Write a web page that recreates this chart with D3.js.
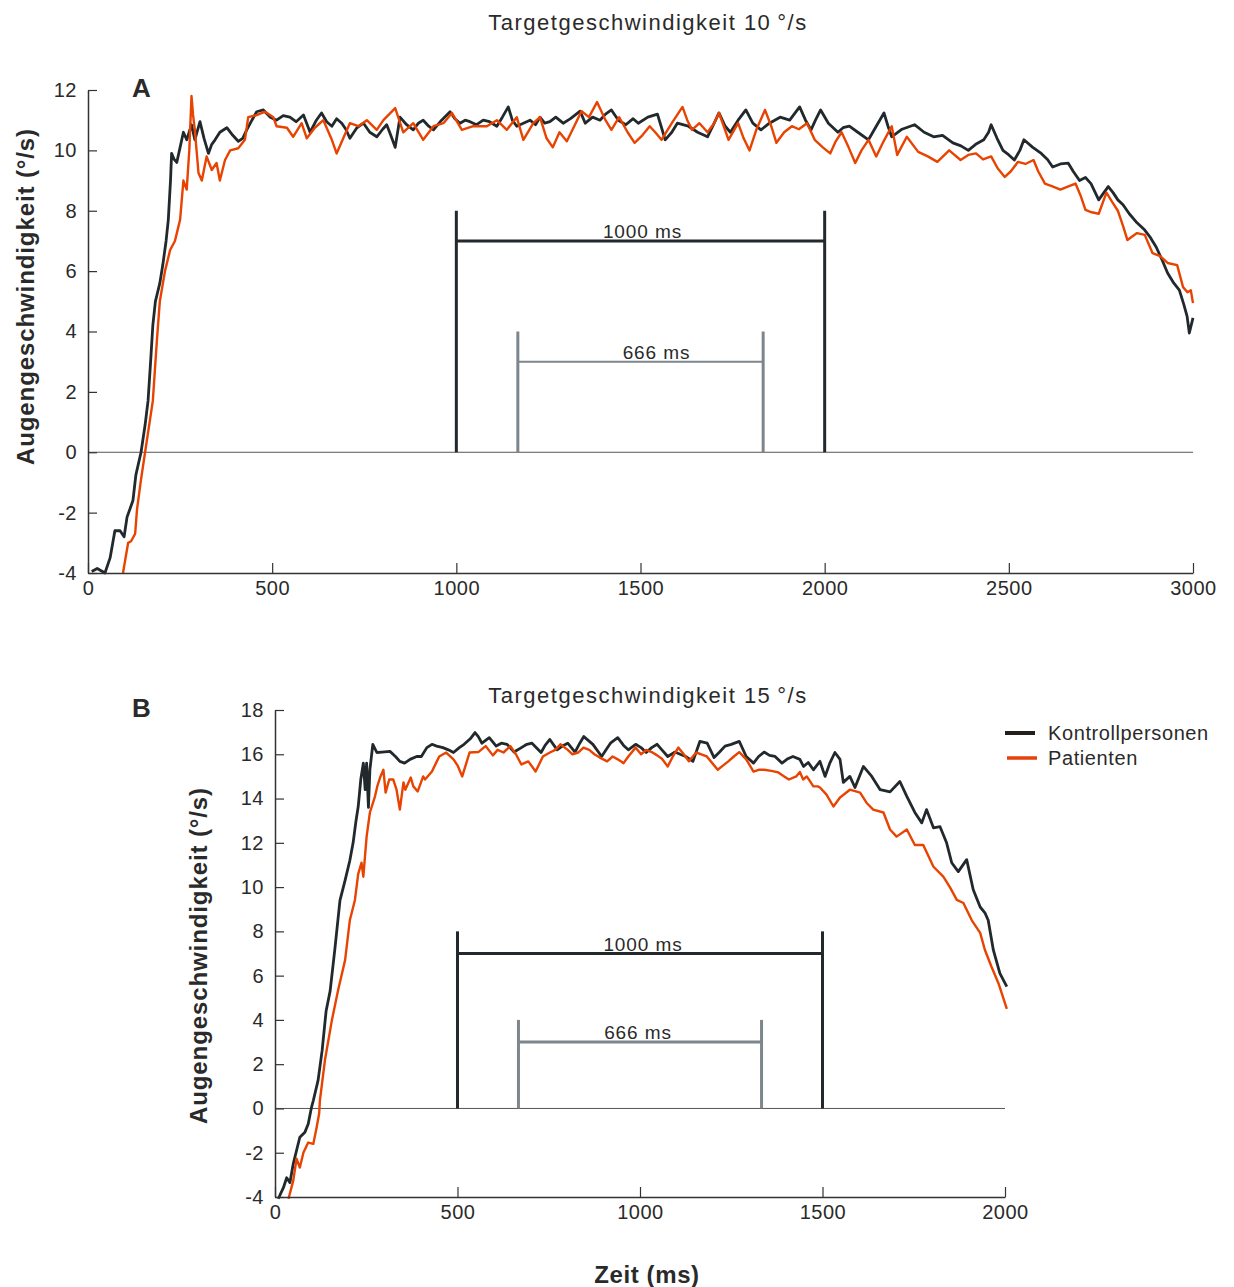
<!DOCTYPE html>
<html>
<head>
<meta charset="utf-8">
<script src="https://cdn.jsdelivr.net/npm/d3@7"></script>
<style>
  body { margin: 0; background: #fff; }
  text { font-family: "Liberation Sans", Arial, sans-serif; fill: #2a2a2a; }
</style>
</head>
<body>
<script>
// values: [time ms, eye velocity deg/s]
var ctrlA = [[10,-3.95],[25,-3.85],[46,-4.0],[60,-3.5],[73,-2.6],[87,-2.6],[98,-2.8],[106,-2.15],[122,-1.6],[130,-0.75],[144,0],[155,0.9],[163,1.7],[170,3.0],[176,4.2],[183,5.0],[195,5.6],[203,6.2],[212,7.0],[218,7.7],[224,9.0],[227,9.9],[234,9.7],[241,9.6],[250,10.1],[259,10.6],[268,10.35],[281,10.85],[290,10.35],[304,10.95],[315,10.4],[327,9.9],[336,10.2],[345,10.35],[358,10.6],[377,10.75],[393,10.5],[408,10.3],[420,10.4],[431,10.68],[445,11.0],[458,11.28],[476,11.34],[495,11.1],[512,11.0],[530,11.15],[548,11.1],[565,10.95],[585,11.17],[603,10.6],[620,11.0],[634,11.24],[648,10.95],[662,10.8],[675,11.05],[689,10.9],[700,10.7],[711,10.4],[730,10.75],[748,10.9],[765,10.6],[784,10.45],[800,10.7],[811,10.85],[822,10.5],[834,10.1],[847,11.1],[865,10.85],[883,10.68],[897,10.9],[910,11.0],[925,10.8],[938,10.68],[960,11.0],[983,11.28],[996,11.05],[1010,10.9],[1024,11.0],[1037,10.95],[1055,10.85],[1073,11.0],[1090,10.95],[1110,10.8],[1125,11.1],[1141,11.44],[1152,11.0],[1164,10.8],[1182,10.9],[1200,11.0],[1215,10.85],[1227,11.1],[1240,10.9],[1254,10.95],[1270,11.1],[1290,10.9],[1310,11.05],[1336,11.3],[1350,10.9],[1370,11.1],[1390,11.0],[1405,11.2],[1421,11.34],[1440,11.0],[1460,10.85],[1480,11.05],[1494,10.9],[1520,11.1],[1546,11.2],[1556,10.8],[1567,10.35],[1585,10.6],[1600,10.9],[1630,10.8],[1655,10.6],[1682,10.45],[1700,10.9],[1713,11.24],[1730,10.8],[1744,10.6],[1765,11.0],[1786,11.34],[1805,10.9],[1827,10.68],[1850,10.9],[1879,11.1],[1905,11.0],[1932,11.44],[1948,11.0],[1963,10.68],[1975,11.0],[1989,11.34],[2010,10.9],[2036,10.6],[2050,10.75],[2067,10.8],[2090,10.6],[2119,10.35],[2140,10.8],[2161,11.24],[2172,10.8],[2182,10.45],[2210,10.7],[2244,10.85],[2270,10.6],[2296,10.45],[2320,10.5],[2348,10.25],[2370,10.15],[2390,10.0],[2410,10.2],[2432,10.35],[2445,10.6],[2452,10.85],[2468,10.4],[2484,10.0],[2500,9.85],[2515,9.68],[2530,10.0],[2541,10.35],[2565,10.1],[2588,9.9],[2605,9.7],[2619,9.45],[2640,9.55],[2661,9.58],[2675,9.3],[2692,9.0],[2708,9.1],[2723,8.9],[2744,8.36],[2758,8.6],[2770,8.8],[2783,8.6],[2796,8.36],[2810,8.2],[2827,7.9],[2848,7.6],[2869,7.36],[2885,7.1],[2900,6.8],[2915,6.4],[2931,5.94],[2948,5.6],[2963,5.37],[2975,4.9],[2984,4.5],[2990,3.95],[3000,4.45]];

var patA = [[95,-4.0],[109,-3.0],[117,-2.95],[128,-2.7],[133,-1.9],[144,-0.9],[155,0],[168,1.05],[176,1.7],[187,3.7],[195,5.0],[209,6.0],[223,6.7],[236,7.0],[244,7.4],[250,7.7],[259,9.0],[268,8.7],[275,10.0],[281,11.8],[285,11.2],[290,10.68],[300,9.25],[309,9.0],[322,9.8],[336,9.35],[349,9.58],[358,9.0],[372,9.68],[386,10.0],[408,10.07],[426,10.35],[435,11.1],[458,11.17],[481,11.28],[503,11.1],[512,10.8],[540,10.75],[557,10.45],[580,10.9],[594,10.4],[616,10.75],[639,11.0],[662,10.35],[675,9.9],[693,10.4],[711,10.9],[734,10.8],[757,11.0],[784,10.68],[802,11.0],[834,11.4],[856,10.6],[883,10.9],[910,10.35],[938,10.8],[965,10.9],[988,11.24],[1015,10.68],[1046,10.8],[1083,10.8],[1110,11.0],[1137,10.68],[1164,11.1],[1182,10.35],[1209,10.9],[1227,11.1],[1245,10.4],[1262,10.1],[1280,10.6],[1300,10.3],[1320,10.8],[1340,11.3],[1360,11.1],[1382,11.6],[1405,11.0],[1421,10.68],[1442,11.1],[1465,10.6],[1484,10.25],[1505,10.5],[1525,10.8],[1540,10.6],[1557,10.35],[1585,10.9],[1614,11.44],[1627,11.0],[1640,10.68],[1660,10.9],[1682,10.6],[1700,10.9],[1713,11.24],[1726,10.8],[1739,10.35],[1765,10.9],[1780,10.4],[1796,10.0],[1815,10.7],[1838,11.34],[1855,10.8],[1869,10.25],[1890,10.6],[1911,10.8],[1930,10.7],[1952,10.9],[1973,10.35],[1995,10.1],[2015,9.9],[2030,10.3],[2046,10.6],[2065,10.1],[2083,9.58],[2100,10.0],[2119,10.35],[2140,9.8],[2160,10.3],[2182,10.8],[2197,9.85],[2223,10.45],[2254,9.95],[2280,9.8],[2306,9.62],[2338,10.0],[2369,9.68],[2390,9.85],[2411,9.9],[2430,9.7],[2452,9.8],[2470,9.4],[2489,9.12],[2505,9.3],[2525,9.62],[2545,9.55],[2567,9.68],[2580,9.3],[2598,8.9],[2620,8.8],[2640,8.7],[2660,8.8],[2681,8.9],[2695,8.5],[2708,8.03],[2725,7.95],[2744,7.9],[2765,8.6],[2780,8.3],[2796,8.0],[2810,7.5],[2822,7.03],[2848,7.26],[2869,7.2],[2890,6.6],[2911,6.5],[2931,6.27],[2957,6.2],[2973,5.47],[2985,5.3],[2994,5.37],[3000,4.94]];

var ctrlB = [[9,-4.08],[23,-3.58],[32,-3.13],[41,-3.35],[50,-2.5],[59,-1.9],[68,-1.3],[82,-1.07],[91,-0.7],[100,0.05],[105,0.36],[118,1.27],[129,2.6],[140,4.4],[151,5.3],[164,7.2],[178,9.4],[192,10.3],[205,11.2],[214,12.0],[222,13.0],[228,13.64],[235,14.86],[242,15.6],[247,14.4],[251,15.6],[256,13.6],[260,15.3],[268,16.45],[279,16.08],[293,16.1],[315,16.13],[330,15.9],[342,15.68],[355,15.6],[370,15.77],[388,15.9],[401,15.9],[416,16.3],[430,16.45],[443,16.37],[460,16.3],[475,16.2],[489,16.08],[505,16.3],[518,16.45],[535,16.7],[548,16.98],[557,16.8],[567,16.5],[587,16.75],[606,16.37],[620,16.5],[636,16.45],[655,16.1],[675,16.3],[690,16.45],[704,16.5],[729,16.08],[740,16.4],[753,16.67],[773,16.2],[790,16.4],[802,16.5],[822,16.1],[835,16.5],[846,16.8],[871,16.45],[895,15.9],[907,16.2],[919,16.5],[939,16.75],[955,16.4],[968,16.2],[988,16.45],[1003,16.3],[1017,16.08],[1032,16.3],[1047,16.45],[1060,16.2],[1076,15.9],[1096,16.1],[1110,16.0],[1125,15.9],[1145,15.68],[1164,16.58],[1184,16.5],[1203,15.85],[1218,16.1],[1233,16.37],[1250,16.45],[1272,16.58],[1291,15.9],[1311,15.6],[1325,15.9],[1340,16.1],[1355,15.95],[1370,15.9],[1389,15.6],[1405,15.8],[1419,15.9],[1438,15.77],[1448,15.45],[1461,15.63],[1475,15.3],[1493,15.68],[1507,15.0],[1520,15.6],[1534,16.08],[1548,15.77],[1557,14.73],[1575,15.0],[1589,14.5],[1612,15.45],[1635,15.0],[1658,14.4],[1685,14.3],[1712,14.77],[1731,14.1],[1753,13.37],[1772,12.9],[1785,13.5],[1804,12.68],[1822,12.73],[1840,12.0],[1854,11.1],[1872,10.7],[1895,11.24],[1913,9.88],[1932,9.1],[1945,8.84],[1954,8.5],[1968,7.16],[1986,6.1],[2005,5.5]];

var patB = [[37,-4.08],[50,-3.26],[59,-2.27],[68,-2.67],[78,-1.99],[91,-1.54],[105,-1.6],[114,-0.86],[121,-0.23],[123,0.36],[137,2.2],[156,4.0],[173,5.35],[192,6.7],[205,8.5],[219,9.42],[228,10.6],[237,11.1],[242,10.47],[251,12.28],[260,13.37],[274,14.1],[281,14.6],[289,15.0],[297,15.3],[303,14.27],[313,14.86],[324,14.86],[333,14.4],[342,13.5],[352,14.73],[357,14.4],[372,14.95],[379,14.55],[391,14.32],[406,15.0],[411,14.86],[430,15.22],[441,15.6],[450,15.9],[469,16.08],[489,15.77],[500,15.5],[513,15.0],[533,16.08],[557,16.1],[577,16.37],[597,15.95],[610,16.2],[626,16.08],[645,16.37],[660,16.0],[675,15.54],[694,15.68],[714,15.22],[734,15.9],[753,16.08],[768,16.2],[782,16.45],[802,16.2],[815,16.0],[831,16.08],[845,16.3],[861,16.2],[875,16.0],[890,15.85],[910,15.68],[925,15.9],[939,15.77],[955,15.6],[968,15.9],[988,16.3],[1003,16.0],[1017,16.2],[1032,16.1],[1047,15.95],[1060,15.8],[1076,15.45],[1090,15.9],[1105,16.3],[1120,16.0],[1134,15.68],[1154,16.08],[1168,16.0],[1183,15.9],[1198,15.6],[1213,15.3],[1228,15.5],[1242,15.68],[1257,15.9],[1272,16.1],[1291,15.77],[1311,15.22],[1325,15.3],[1340,15.3],[1360,15.25],[1379,15.18],[1395,15.0],[1408,14.86],[1428,15.0],[1438,15.2],[1447,14.86],[1457,15.0],[1475,14.55],[1487,14.55],[1493,14.5],[1511,14.18],[1530,13.64],[1548,14.05],[1575,14.4],[1603,14.27],[1621,13.8],[1639,13.5],[1667,13.37],[1685,12.6],[1703,12.28],[1731,12.6],[1753,11.9],[1776,11.9],[1804,10.92],[1831,10.47],[1849,10.0],[1868,9.42],[1886,9.28],[1909,8.5],[1932,7.93],[1945,7.16],[1963,6.4],[1982,5.66],[2005,4.5]];

// brackets: from, to (ms), top of verticals, height of bar (deg/s)
var bracketsA = [{from: 1000, to: 2000, top: 8, bar: 7, label: "1000 ms"},
                 {from: 1167, to: 1833, top: 4, bar: 3, label: "666 ms"}];
var bracketsB = [{from: 500, to: 1500, top: 8, bar: 7, label: "1000 ms"},
                 {from: 667, to: 1333, top: 4, bar: 3, label: "666 ms"}];

var ticksAx = [0, 500, 1000, 1500, 2000, 2500, 3000];
var ticksAy = [-4, -2, 0, 2, 4, 6, 8, 10, 12];
var ticksBx = [0, 500, 1000, 1500, 2000];
var ticksBy = [-4, -2, 0, 2, 4, 6, 8, 10, 12, 14, 16, 18];

var seriesNames = ["Kontrollpersonen", "Patienten"];
var titles = ["Targetgeschwindigkeit 10\u2009°/s", "Targetgeschwindigkeit 15\u2009°/s"];

var ctrlColor = "#22292c";
var patColor = "#e84300";
var bigBracketColor = "#22292c";
var smallBracketColor = "#7d868c";

var svg = d3.select("body").append("svg")
    .attr("width", 1234)
    .attr("height", 1287);

function drawPanel(o) {
    var x = d3.scaleLinear().domain(o.xdom).range(o.xr);
    var y = d3.scaleLinear().domain(o.ydom).range(o.yr);
    var g = svg.append("g").attr("class", "panel");

    // zero line
    g.append("line")
        .attr("x1", x(o.xdom[0])).attr("x2", x(o.xdom[1]))
        .attr("y1", y(0)).attr("y2", y(0))
        .attr("stroke", "#555").attr("stroke-width", 1);

    // brackets
    o.brackets.forEach(function(b, i) {
        var col = i == 0 ? bigBracketColor : smallBracketColor;
        var bw = i == 0 ? 3 : o.smallBarWidth;
        [b.from, b.to].forEach(function(t) {
            g.append("line")
                .attr("x1", x(t)).attr("x2", x(t))
                .attr("y1", y(b.top)).attr("y2", y(0))
                .attr("stroke", col).attr("stroke-width", 3);
        });
        g.append("line")
            .attr("x1", x(b.from)).attr("x2", x(b.to))
            .attr("y1", y(b.bar)).attr("y2", y(b.bar))
            .attr("stroke", col).attr("stroke-width", bw);
        g.append("text")
            .attr("x", (x(b.from) + x(b.to)) / 2 + o.labelShift[i])
            .attr("y", y(b.bar) - 3)
            .attr("text-anchor", "middle")
            .style("font-size", "19px").style("letter-spacing", "0.9px")
            .text(b.label);
    });

    var line = d3.line()
        .x(function(d) { return x(d[0]); })
        .y(function(d) { return y(d[1]); });

    g.append("path").datum(o.ctrl)
        .attr("fill", "none").attr("stroke", ctrlColor)
        .attr("stroke-width", 2.8).attr("stroke-linejoin", "round")
        .attr("d", line);
    g.append("path").datum(o.pat)
        .attr("fill", "none").attr("stroke", patColor)
        .attr("stroke-width", 2.4).attr("stroke-linejoin", "round")
        .attr("d", line);

    // axes with inward ticks
    var fmt = function(d) { return String(d); };
    var xa = g.append("g")
        .attr("transform", "translate(0," + o.yr[0] + ")")
        .call(d3.axisBottom(x).tickValues(o.xticks).tickFormat(fmt)
            .tickSizeInner(-10).tickSizeOuter(0).tickPadding(8));
    var ya = g.append("g")
        .attr("transform", "translate(" + o.xr[0] + ",0)")
        .call(d3.axisLeft(y).tickValues(o.yticks).tickFormat(fmt)
            .tickSizeInner(-9).tickSizeOuter(0).tickPadding(11));
    [xa, ya].forEach(function(a) {
        a.select(".domain").attr("stroke", "#333").attr("stroke-width", 1.5);
        a.selectAll(".tick line").attr("stroke", "#333").attr("stroke-width", 1.2);
        a.selectAll(".tick text")
            .style("font-family", "'Liberation Sans', Arial, sans-serif")
            .style("font-size", "20px").style("letter-spacing", "0.5px")
            .attr("fill", "#2a2a2a");
    });

    // title
    svg.append("text")
        .attr("x", 648).attr("y", o.titleY)
        .attr("text-anchor", "middle")
        .style("font-size", "22px").style("letter-spacing", "1.5px")
        .text(o.title);

    // panel letter
    svg.append("text")
        .attr("x", 132).attr("y", o.letterY)
        .style("font-size", "26px").style("font-weight", "bold")
        .text(o.letter);

    // y label
    svg.append("text")
        .attr("transform", "translate(" + o.ylabX + "," + ((o.yr[0] + o.yr[1]) / 2 + o.ylabShift) + ") rotate(-90)")
        .attr("text-anchor", "middle")
        .style("font-size", "24px").style("font-weight", "bold").style("letter-spacing", "0.9px")
        .text("Augengeschwindigkeit (°/s)");
}

drawPanel({
    xdom: [0, 3000], xr: [88, 1193],
    ydom: [-4, 12], yr: [573, 90],
    ctrl: ctrlA, pat: patA,
    brackets: bracketsA, smallBarWidth: 2, labelShift: [2, 16],
    xticks: ticksAx, yticks: ticksAy,
    title: titles[0], titleY: 30,
    letter: "A", letterY: 97,
    ylabX: 34, ylabShift: -35
});

drawPanel({
    xdom: [0, 2000], xr: [275, 1005],
    ydom: [-4, 18], yr: [1197, 710],
    ctrl: ctrlB, pat: patB,
    brackets: bracketsB, smallBarWidth: 3, labelShift: [3, -2],
    xticks: ticksBx, yticks: ticksBy,
    title: titles[1], titleY: 703,
    letter: "B", letterY: 717,
    ylabX: 207, ylabShift: 2
});

// x label
svg.append("text")
    .attr("x", 647).attr("y", 1283)
    .attr("text-anchor", "middle")
    .style("font-size", "24px").style("font-weight", "bold").style("letter-spacing", "0.6px")
    .text("Zeit (ms)");

// legend
var leg = svg.append("g").attr("transform", "translate(1005,733)");
[ctrlColor, patColor].forEach(function(c, i) {
    leg.append("line")
        .attr("x1", i * 2).attr("x2", 30 + i * 2)
        .attr("y1", i * 25).attr("y2", i * 25)
        .attr("stroke", i == 0 ? "#231f1c" : "#e8400a")
        .attr("stroke-width", i == 0 ? 4 : 3.5);
    leg.append("text")
        .attr("x", 43).attr("y", i * 25 + 7)
        .style("font-size", "20px").style("letter-spacing", "0.6px")
        .text(seriesNames[i]);
});
</script>
</body>
</html>
